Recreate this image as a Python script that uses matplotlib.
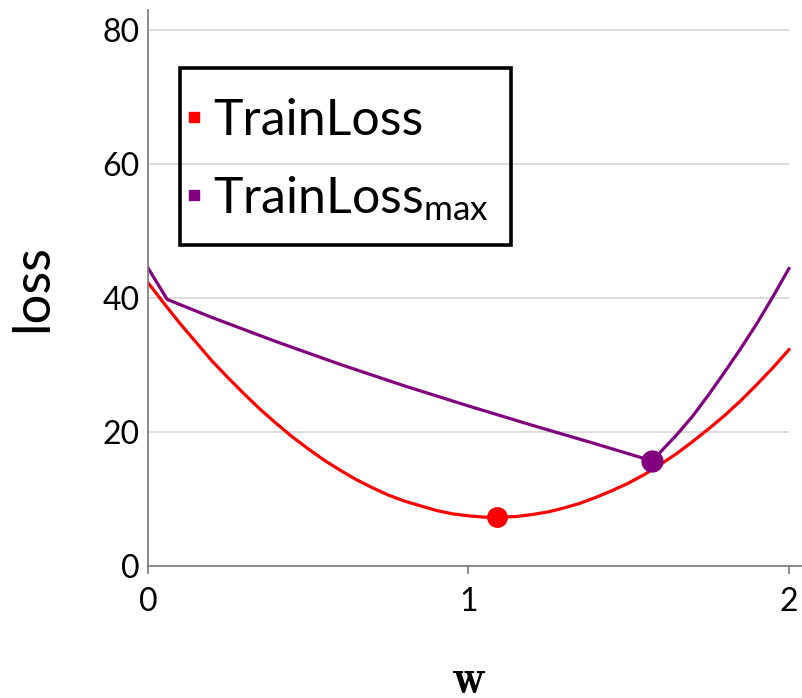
import matplotlib
matplotlib.use("Agg")
import matplotlib.pyplot as plt
from matplotlib.lines import Line2D
from matplotlib.patches import Rectangle

plt.rcParams['font.family'] = ['Lato', 'DejaVu Sans']
plt.rcParams['mathtext.fontset'] = 'custom'
plt.rcParams['mathtext.rm'] = 'Lato'
plt.rcParams['mathtext.it'] = 'Lato'

# values
w_train = [0.00, 0.05, 0.10, 0.15, 0.20, 0.25, 0.30, 0.35, 0.40, 0.45,
           0.50, 0.55, 0.60, 0.65, 0.70, 0.75, 0.80, 0.85, 0.90, 0.95,
           1.00, 1.05, 1.10, 1.15, 1.20, 1.25, 1.30, 1.35, 1.40, 1.45,
           1.50, 1.55, 1.60, 1.65, 1.70, 1.75, 1.80, 1.85, 1.90, 1.95, 2.00]
train_loss = [42.3, 39.2, 36.2, 33.4, 30.6, 28.1, 25.7, 23.4, 21.3, 19.3,
              17.5, 15.8, 14.3, 12.9, 11.7, 10.6, 9.7, 9.0, 8.3, 7.8,
              7.5, 7.3, 7.3, 7.4, 7.7, 8.1, 8.7, 9.4, 10.3, 11.3,
              12.4, 13.7, 15.2, 16.8, 18.6, 20.5, 22.5, 24.7, 27.1, 29.6, 32.3]

w_max = [0.0, 0.06, 0.2, 0.4, 0.6, 0.8, 1.0, 1.2, 1.4, 1.573,
         1.65, 1.7, 1.75, 1.8, 1.85, 1.9, 1.95, 2.0]
train_loss_max = [44.5, 39.8, 37.1, 33.5, 30.1, 26.9, 23.9, 21.0, 18.2, 15.7,
                  19.6, 22.4, 25.6, 29.0, 32.5, 36.2, 40.2, 44.4]

min_point = (1.09, 7.3)
max_point = (1.573, 15.7)

labels = ['TrainLoss', r'TrainLoss$_{\mathrm{max}}$']
red = '#ff0000'
purple = '#800080'

fig = plt.figure(figsize=(8.03, 6.98), dpi=100)
ax = fig.add_axes([0.1843, 0.189, 0.8157, 0.7967])

ax.hlines([20, 40, 60, 80], 0, 2, colors='#d6d6d6', linewidth=1.2, zorder=0)

ax.plot(w_train, train_loss, color=red, linewidth=2.3, zorder=2)
ax.plot(w_max, train_loss_max, color=purple, linewidth=2.3, zorder=2)
ax.plot(*min_point, 'o', color=red, markersize=14, zorder=3)
ax.plot(*max_point, 'o', color=purple, markersize=15, zorder=3)

ax.set_xlim(0, 2.044)
ax.set_ylim(0, 83)
ax.set_xticks([0, 1, 2])
ax.set_yticks([0, 20, 40, 60, 80])
ax.tick_params(axis='x', direction='out', length=6, width=1.2, color='#777777',
               labelsize=23, pad=9)
ax.tick_params(axis='y', length=0, labelsize=23, pad=6)

for side in ['top', 'right']:
    ax.spines[side].set_visible(False)
for side in ['left', 'bottom']:
    ax.spines[side].set_color('#777777')
    ax.spines[side].set_linewidth(1.2)

ax.set_ylabel('loss', fontsize=38, va='center')
ax.yaxis.set_label_coords(-0.1756, 0.5)
ax.set_xlabel(r'$\mathbf{w}$', fontsize=34, math_fontfamily='cm', va='center')
ax.xaxis.set_label_coords(0.489, -0.205)

# legend: entries without frame, box drawn separately
handles = [Line2D([], [], marker='s', linestyle='none', color=red, markersize=7),
           Line2D([], [], marker='s', linestyle='none', color=purple, markersize=7)]
leg = ax.legend(handles, labels, loc='upper left', bbox_to_anchor=(0.0588, 0.842),
                borderaxespad=0, borderpad=0, frameon=False, fontsize=36,
                handlelength=0.3, handletextpad=0.23, labelspacing=0.6)
ax.add_patch(Rectangle((0.0489, 0.5773), 0.5053, 0.3183, transform=ax.transAxes,
                       fill=False, edgecolor='black', linewidth=2.6, zorder=5))

fig.savefig('out.png', dpi=100)
